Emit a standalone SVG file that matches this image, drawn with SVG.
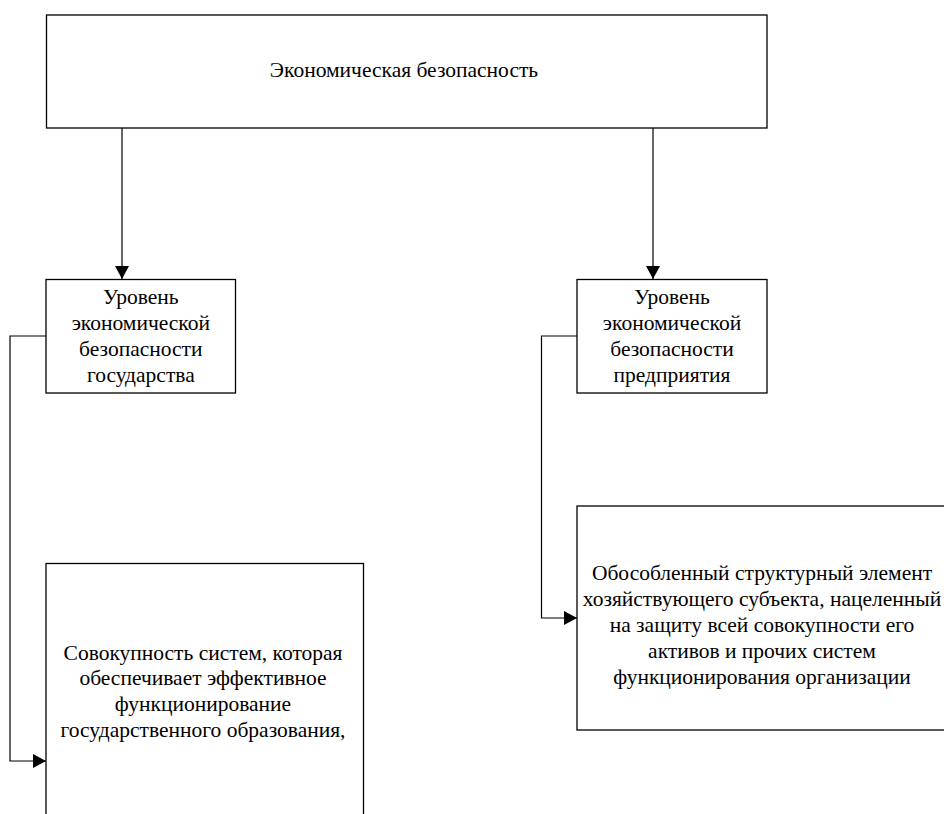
<svg xmlns="http://www.w3.org/2000/svg" width="944" height="814" viewBox="0 0 944 814">
<style>
.box{fill:#fff;stroke:#000;stroke-width:1.3}
.t{font-family:'Liberation Serif','Times New Roman','DejaVu Serif',serif;font-size:21.5px;fill:#000;text-anchor:middle}
.c{fill:none;stroke:#000;stroke-width:1.2}
</style>
<defs>
<marker id="ah" markerWidth="14" markerHeight="14" refX="13" refY="7" orient="auto" markerUnits="userSpaceOnUse">
<path d="M0,0 L13,7 L0,14 Z" fill="#000"/>
</marker>
</defs>
<rect width="944" height="814" fill="#fff"/>
<g id="connectors">
<line class="c" x1="122" y1="128" x2="122" y2="279" marker-end="url(#ah)"/>
<line class="c" x1="653" y1="128" x2="653" y2="279" marker-end="url(#ah)"/>
<polyline class="c" points="46,336 10,336 10,761 46,761" marker-end="url(#ah)"/>
<polyline class="c" points="577,336 541.5,336 541.5,618 577,618" marker-end="url(#ah)"/>
</g>
<g id="top">
<rect class="box" x="46.5" y="15" width="720.5" height="113"/>
<text class="t" x="404" y="77">Экономическая безопасность</text>
</g>
<g id="state">
<rect class="box" x="46" y="279.5" width="189.5" height="113.5"/>
<text class="t" x="140.8" y="304">Уровень</text>
<text class="t" x="140.8" y="330">экономической</text>
<text class="t" x="140.8" y="356">безопасности</text>
<text class="t" x="140.8" y="382">государства</text>
</g>
<g id="enterprise">
<rect class="box" x="577" y="279.5" width="190" height="113.5"/>
<text class="t" x="672" y="304">Уровень</text>
<text class="t" x="672" y="330">экономической</text>
<text class="t" x="672" y="356">безопасности</text>
<text class="t" x="672" y="382">предприятия</text>
</g>
<g id="state-def">
<rect class="box" x="46" y="563.5" width="317.5" height="270"/>
<text class="t" x="203" y="660">Совокупность систем, которая</text>
<text class="t" x="203" y="685">обеспечивает эффективное</text>
<text class="t" x="203" y="711">функционирование</text>
<text class="t" x="203" y="737">государственного образования,</text>
</g>
<g id="enterprise-def">
<rect class="box" x="577" y="506" width="375" height="224"/>
<text class="t" x="762" y="580">Обособленный структурный элемент</text>
<text class="t" x="762" y="606">хозяйствующего субъекта, нацеленный</text>
<text class="t" x="762" y="632">на защиту всей совокупности его</text>
<text class="t" x="762" y="658">активов и прочих систем</text>
<text class="t" x="762" y="684">функционирования организации</text>
</g>
</svg>
